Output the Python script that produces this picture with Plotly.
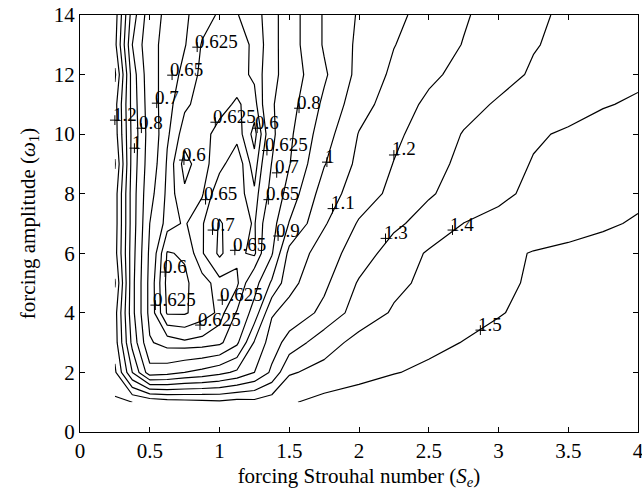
import plotly.graph_objects as go

# forcing Strouhal number grid (S_e) and forcing amplitude grid
se = [0.25, 0.375, 0.5, 0.625, 0.75, 0.875, 1.0, 1.125, 1.25, 1.375, 1.5,
      1.75, 2.0, 2.25, 2.5, 2.75, 3.0, 3.25, 3.5, 3.75, 4.0]
amp = [1, 2, 3, 4, 5, 6, 7, 8, 9, 10, 11, 12, 13, 14]

# measured field (rows = amplitude 1..14, columns = S_e)
z_amp1 = [1.52, 1.50, 1.48, 1.45, 1.44, 1.43, 1.42, 1.44, 1.43, 1.46, 1.49, 1.53, 1.56, 1.58, 1.60, 1.61, 1.62, 1.63, 1.64, 1.65, 1.66]
z_amp2 = [1.42, 1.10, 0.84, 0.86, 0.90, 0.93, 0.97, 1.02, 1.10, 1.22, 1.39, 1.43, 1.46, 1.495, 1.52, 1.54, 1.56, 1.58, 1.60, 1.62, 1.64]
z_amp3 = [1.35, 0.97, 0.71, 0.665, 0.655, 0.66, 0.68, 0.78, 1.01, 1.15, 1.24, 1.36, 1.43, 1.445, 1.475, 1.503, 1.525, 1.55, 1.57, 1.60, 1.62]
z_amp4 = [1.34, 0.93, 0.67, 0.597, 0.597, 0.612, 0.63, 0.705, 0.84, 1.09, 1.135, 1.225, 1.35, 1.41, 1.44, 1.467, 1.495, 1.52, 1.55, 1.575, 1.60]
z_amp5 = [1.41, 0.93, 0.67, 0.592, 0.595, 0.615, 0.635, 0.64, 0.76, 0.915, 1.07, 1.18, 1.31, 1.38, 1.42, 1.45, 1.483, 1.51, 1.53, 1.55, 1.57]
z_amp6 = [1.34, 0.94, 0.68, 0.598, 0.603, 0.645, 0.71, 0.66, 0.64, 0.79, 1.03, 1.15, 1.25, 1.345, 1.41, 1.445, 1.477, 1.505, 1.52, 1.535, 1.55]
z_amp7 = [1.35, 0.95, 0.70, 0.635, 0.622, 0.645, 0.705, 0.675, 0.645, 0.76, 0.905, 1.09, 1.21, 1.28, 1.34, 1.401, 1.42, 1.445, 1.465, 1.487, 1.51]
z_amp8 = [1.35, 0.95, 0.72, 0.64, 0.605, 0.622, 0.672, 0.665, 0.63, 0.72, 0.84, 1.05, 1.15, 1.225, 1.29, 1.34, 1.385, 1.415, 1.435, 1.46, 1.48]
z_amp9 = [1.41, 0.96, 0.74, 0.645, 0.59, 0.615, 0.64, 0.67, 0.61, 0.702, 0.795, 0.994, 1.125, 1.203, 1.27, 1.32, 1.365, 1.405, 1.425, 1.45, 1.47]
z_amp10 = [1.35, 0.97, 0.75, 0.655, 0.612, 0.618, 0.632, 0.64, 0.59, 0.68, 0.78, 0.955, 1.105, 1.18, 1.245, 1.305, 1.35, 1.39, 1.41, 1.43, 1.45]
z_amp11 = [1.34, 0.96, 0.74, 0.66, 0.63, 0.615, 0.618, 0.628, 0.615, 0.69, 0.76, 0.92, 1.06, 1.15, 1.22, 1.27, 1.31, 1.34, 1.37, 1.395, 1.41]
z_amp12 = [1.42, 0.95, 0.73, 0.67, 0.64, 0.62, 0.612, 0.615, 0.63, 0.675, 0.74, 0.885, 1.03, 1.12, 1.18, 1.23, 1.27, 1.31, 1.335, 1.36, 1.385]
z_amp13 = [1.33, 0.90, 0.72, 0.68, 0.652, 0.623, 0.612, 0.618, 0.628, 0.67, 0.75, 0.91, 1.02, 1.097, 1.15, 1.204, 1.25, 1.295, 1.32, 1.35, 1.38]
z_amp14 = [1.35, 0.95, 0.74, 0.68, 0.655, 0.635, 0.622, 0.624, 0.635, 0.67, 0.75, 0.91, 1.01, 1.08, 1.13, 1.19, 1.24, 1.28, 1.32, 1.34, 1.37]

z = [z_amp1, z_amp2, z_amp3, z_amp4, z_amp5, z_amp6, z_amp7,
     z_amp8, z_amp9, z_amp10, z_amp11, z_amp12, z_amp13, z_amp14]

levels = [0.6, 0.625, 0.65, 0.7, 0.8, 0.9, 1.0, 1.1, 1.2, 1.3, 1.4, 1.5]

# contour labels (anchor points)
label_x = [2.87, 2.67, 2.19, 2.25, 1.81, 1.77, 1.42, 1.57, 0.44, 0.25, 0.39,
           0.55, 0.66, 0.84, 0.97, 0.745, 1.27, 1.34, 1.41, 1.35, 0.90, 0.95,
           1.11, 0.61, 0.54, 1.02, 0.86]
label_y = [3.42, 6.78, 6.5, 9.3, 7.5, 9.06, 6.58, 10.87, 10.2, 10.47, 9.53,
           11.04, 11.98, 12.92, 10.4, 9.13, 10.2, 9.45, 8.7, 7.8, 7.8, 6.78,
           6.1, 5.37, 4.26, 4.43, 3.59]
label_text = ["1.5", "1.4", "1.3", "1.2", "1.1", "1", "0.9", "0.8", "0.8", "1.2", "1",
              "0.7", "0.65", "0.625", "0.625", "0.6", "0.6", "0.625", "0.7", "0.65", "0.65", "0.7",
              "0.65", "0.6", "0.625", "0.625", "0.625"]

FONT = "Liberation Serif, Times New Roman, serif"

fig = go.Figure()
for lev in levels:
    fig.add_trace(go.Contour(
        x=se, y=amp, z=z,
        autocontour=False,
        contours=dict(start=lev, end=lev, size=1, coloring="lines", showlabels=False),
        line=dict(width=1.2, smoothing=0),
        colorscale=[[0, "black"], [1, "black"]],
        showscale=False, hoverinfo="skip",
    ))

fig.add_trace(go.Scatter(
    x=label_x, y=label_y, mode="markers",
    marker=dict(symbol="cross-thin", size=7, line=dict(width=1, color="black"), color="black"),
    hoverinfo="skip", showlegend=False,
))

for lx, ly, lt in zip(label_x, label_y, label_text):
    fig.add_annotation(x=lx, y=ly, text=lt, showarrow=False, xanchor="left", yanchor="middle",
                       xshift=-4, yshift=6, font=dict(family=FONT, size=19, color="black"))

axis_common = dict(
    showline=True, linecolor="black", linewidth=1.3, mirror="ticks",
    ticks="inside", ticklen=5, tickcolor="black", tickwidth=1,
    showgrid=False, zeroline=False, ticklabeloverflow="allow", automargin=False,
    tickfont=dict(family=FONT, size=21, color="black"),
)

fig.update_layout(
    width=642, height=490,
    margin=dict(l=80, r=4, t=15, b=58, autoexpand=False),
    paper_bgcolor="white", plot_bgcolor="white",
    showlegend=False,
    xaxis=dict(range=[0, 4], dtick=0.5, tick0=0,
               title=dict(text="forcing Strouhal number (<i>S<sub>e</sub></i>)",
                          font=dict(family=FONT, size=21, color="black"), standoff=6),
               **axis_common),
    yaxis=dict(range=[0, 14], dtick=2, tick0=0,
               title=dict(text="forcing amplitude (<i>ω</i><sub>1</sub>)",
                          font=dict(family=FONT, size=21, color="black"), standoff=12),
               **axis_common),
)

fig.write_html("out.html")
